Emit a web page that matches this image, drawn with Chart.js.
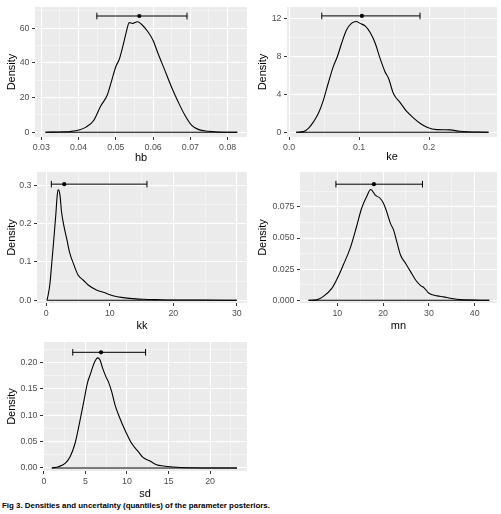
<!DOCTYPE html>
<html>
<head>
<meta charset="utf-8">
<script src="https://cdn.jsdelivr.net/npm/chart.js@4.4.0/dist/chart.umd.min.js"></script>
<style>
  html, body { margin: 0; padding: 0; background: #fff; overflow: hidden; }
  body { width: 501px; height: 514px; position: relative; }
  canvas { position: absolute; }
  #caption { position: absolute; left: 2px; top: 501px; line-height: 9px; white-space: nowrap;
             font: bold 7.9px "Liberation Sans", Arial, sans-serif; color: #000; }
</style>
</head>
<body>
<div id="caption">Fig 3. Densities and uncertainty (quantiles) of the parameter posteriors.</div>
<script>
// hb
const hbX = [0.0311, 0.036, 0.0378, 0.0401, 0.042, 0.0441, 0.0459, 0.0477, 0.0489, 0.05, 0.0509, 0.0518, 0.0527, 0.0536, 0.0545, 0.0558, 0.0568, 0.0586, 0.06, 0.0613, 0.0631, 0.0649, 0.0667, 0.0685, 0.0703, 0.0721, 0.0748, 0.0775, 0.0826];
const hbY = [0, 0.3, 0.5, 1.3, 3, 7, 15, 21.5, 30, 38, 42, 49, 57, 63.3, 62.8, 63.8, 62.5, 58, 53, 45.6, 36, 26.3, 17.7, 10, 4.2, 1.7, 0.6, 0.2, 0];
const hbInterval = [0.0449, 0.0563, 0.0691]; // low, median, high
const hbIntervalY = 67.1;
const hbXTicks = [0.03, 0.04, 0.05, 0.06, 0.07, 0.08];
const hbXLabels = ['0.03', '0.04', '0.05', '0.06', '0.07', '0.08'];
const hbXMinor = [0.035, 0.045, 0.055, 0.065, 0.075];
const hbYTicks = [0, 20, 40, 60];
const hbYLabels = ['0', '20', '40', '60'];
const hbYMinor = [10, 30, 50, 70];

// ke
const keX = [0.010, 0.0205, 0.0276, 0.0348, 0.0419, 0.049, 0.056, 0.063, 0.069, 0.075, 0.082, 0.089, 0.096, 0.1014, 0.109, 0.116, 0.123, 0.130, 0.137, 0.142, 0.149, 0.159, 0.168, 0.178, 0.187, 0.197, 0.211, 0.230, 0.244, 0.285];
const keY = [0, 0.07, 0.42, 1.1, 2.0, 3.4, 5.2, 6.9, 8.0, 9.4, 10.8, 11.5, 11.7, 11.5, 11.2, 10.5, 9.4, 7.8, 6.4, 5.7, 4.1, 3.1, 2.2, 1.5, 0.95, 0.53, 0.28, 0.25, 0.1, 0];
const keInterval = [0.0467, 0.104, 0.187];
const keIntervalY = 12.29;
const keXTicks = [0, 0.1, 0.2];
const keXLabels = ['0.0', '0.1', '0.2'];
const keXMinor = [0.05, 0.15, 0.25];
const keYTicks = [0, 4, 8, 12];
const keYLabels = ['0', '4', '8', '12'];
const keYMinor = [2, 6, 10];

// kk
const kkX = [0.1, 0.3, 0.58, 0.84, 1.2, 1.5, 1.73, 1.9, 2.15, 2.4, 2.8, 3.2, 3.7, 4.25, 5.0, 5.8, 6.6, 7.9, 9.0, 10.5, 12.1, 13.7, 15.3, 17.4, 20, 24.2, 30];
const kkY = [0, 0.014, 0.044, 0.092, 0.162, 0.223, 0.275, 0.288, 0.275, 0.231, 0.192, 0.162, 0.123, 0.097, 0.066, 0.053, 0.040, 0.027, 0.021, 0.012, 0.007, 0.0043, 0.0026, 0.0017, 0.0009, 0.0009, 0];
const kkInterval = [0.8, 2.83, 15.85];
const kkIntervalY = 0.303;
const kkXTicks = [0, 10, 20, 30];
const kkXLabels = ['0', '10', '20', '30'];
const kkXMinor = [5, 15, 25];
const kkYTicks = [0, 0.1, 0.2, 0.3];
const kkYLabels = ['0.0', '0.1', '0.2', '0.3'];
const kkYMinor = [0.05, 0.15, 0.25];

// mn
const mnX = [3.7, 5.5, 6.9, 8.8, 10, 11.3, 12.8, 14.2, 15.3, 16.4, 17.3, 18.3, 19.4, 20.1, 20.8, 21.6, 22.3, 23.0, 23.8, 24.9, 26.0, 27.1, 28.2, 28.9, 30.0, 31.8, 33.2, 34.7, 36.8, 43.2];
const mnY = [0, 0.0003, 0.0029, 0.0096, 0.0176, 0.0283, 0.0417, 0.0591, 0.0738, 0.0832, 0.089, 0.0845, 0.0818, 0.0778, 0.0711, 0.0618, 0.0564, 0.047, 0.0364, 0.0297, 0.023, 0.0163, 0.0118, 0.0102, 0.0056, 0.0035, 0.0027, 0.0016, 0.0005, 0];
const mnInterval = [9.7, 18.0, 28.6];
const mnIntervalY = 0.0933;
const mnXTicks = [10, 20, 30, 40];
const mnXLabels = ['10', '20', '30', '40'];
const mnXMinor = [5, 15, 25, 35];
const mnYTicks = [0, 0.025, 0.05, 0.075];
const mnYLabels = ['0.000', '0.025', '0.050', '0.075'];
const mnYMinor = [0.0125, 0.0375, 0.0625, 0.0875];

// sd
const sdX = [0.96, 1.76, 2.56, 3.16, 3.76, 4.36, 4.84, 5.24, 5.64, 6.04, 6.48, 6.76, 7.08, 7.48, 7.76, 8.16, 8.56, 9.16, 9.76, 10.56, 11.36, 11.96, 12.76, 13.56, 14.36, 15.56, 17.16, 23.24];
const sdY = [0, 0.0025, 0.0089, 0.0215, 0.047, 0.091, 0.129, 0.161, 0.18, 0.199, 0.209, 0.205, 0.189, 0.173, 0.164, 0.145, 0.12, 0.094, 0.072, 0.047, 0.031, 0.0196, 0.0133, 0.0063, 0.0038, 0.0019, 0.0006, 0];
const sdInterval = [3.48, 6.88, 12.24];
const sdIntervalY = 0.2196;
const sdXTicks = [0, 5, 10, 15, 20];
const sdXLabels = ['0', '5', '10', '15', '20'];
const sdXMinor = [2.5, 7.5, 12.5, 17.5, 22.5];
const sdYTicks = [0, 0.05, 0.1, 0.15, 0.2];
const sdYLabels = ['0.00', '0.05', '0.10', '0.15', '0.20'];
const sdYMinor = [0.025, 0.075, 0.125, 0.175, 0.225];

Chart.defaults.font.family = '"Liberation Sans", Arial, sans-serif';
Chart.defaults.animation = false;

const PAD = 10;      // room above and right of each panel
const AXIS_H = 34;   // room below each panel (ticks + title)
const TICK_FONT = 8.8;
const TITLE_FONT = 11;

const panels = [
    { name: 'hb', x: hbX, y: hbY, bar: hbInterval, barY: hbIntervalY,
      xTicks: hbXTicks, xLabels: hbXLabels, xMinor: hbXMinor, yTicks: hbYTicks, yLabels: hbYLabels, yMinor: hbYMinor,
      xRange: [0.0283, 0.0852], yRange: [-2.7, 72.3],
      box: { left: 35, top: 7, right: 247, bottom: 137 }, canvasLeft: 0, densityX: 12, titleY: 158 },
    { name: 'ke', x: keX, y: keY, bar: keInterval, barY: keIntervalY,
      xTicks: keXTicks, xLabels: keXLabels, xMinor: keXMinor, yTicks: keYTicks, yLabels: keYLabels, yMinor: keYMinor,
      xRange: [-0.003, 0.297], yRange: [-0.5, 13.23],
      box: { left: 287, top: 7, right: 497, bottom: 137 }, canvasLeft: 250, densityX: 263, titleY: 157 },
    { name: 'kk', x: kkX, y: kkY, bar: kkInterval, barY: kkIntervalY,
      xTicks: kkXTicks, xLabels: kkXLabels, xMinor: kkXMinor, yTicks: kkYTicks, yLabels: kkYLabels, yMinor: kkYMinor,
      xRange: [-1.46, 31.6], yRange: [-0.007, 0.3347],
      box: { left: 37, top: 172, right: 247, bottom: 303 }, canvasLeft: 0, densityX: 12, titleY: 326 },
    { name: 'mn', x: mnX, y: mnY, bar: mnInterval, barY: mnIntervalY,
      xTicks: mnXTicks, xLabels: mnXLabels, xMinor: mnXMinor, yTicks: mnYTicks, yLabels: mnYLabels, yMinor: mnYMinor,
      xRange: [1.86, 44.87], yRange: [-0.0022, 0.1031],
      box: { left: 300, top: 172, right: 497, bottom: 303 }, canvasLeft: 250, densityX: 263, titleY: 326 },
    { name: 'sd', x: sdX, y: sdY, bar: sdInterval, barY: sdIntervalY,
      xTicks: sdXTicks, xLabels: sdXLabels, xMinor: sdXMinor, yTicks: sdYTicks, yLabels: sdYLabels, yMinor: sdYMinor,
      xRange: [-0.1, 24.44], yRange: [-0.0057, 0.2392],
      box: { left: 43, top: 342, right: 247, bottom: 471 }, canvasLeft: 0, densityX: 12, titleY: 494 },
];

// grey ggplot panel background
const panelBg = {
    id: 'panelBg',
    beforeDraw(chart) {
        const { ctx, chartArea: a } = chart;
        ctx.save();
        ctx.fillStyle = '#EBEBEB';
        ctx.fillRect(a.left, a.top, a.right - a.left, a.bottom - a.top);
        ctx.restore();
    }
};

function tickList(majors, minors) {
    return majors.map(v => ({ value: v }))
        .concat(minors.map(v => ({ value: v, minor: true })))
        .sort((a, b) => a.value - b.value);
}

function axisOptions(p, axis) {
    const majors = axis === 'x' ? p.xTicks : p.yTicks;
    const labels = axis === 'x' ? p.xLabels : p.yLabels;
    const minors = axis === 'x' ? p.xMinor : p.yMinor;
    const range = axis === 'x' ? p.xRange : p.yRange;
    const yw = p.box.left - p.canvasLeft;
    return {
        type: 'linear',
        position: axis === 'x' ? 'bottom' : 'left',
        min: range[0],
        max: range[1],
        afterBuildTicks(scale) { scale.ticks = tickList(majors, minors); },
        afterFit(scale) {
            if (axis === 'x') scale.height = AXIS_H;
            else scale.width = yw;
        },
        border: { display: false },
        grid: {
            color: c => (c.tick && c.tick.minor) ? 'rgba(255,255,255,0.9)' : '#FFFFFF',
            lineWidth: c => (c.tick && c.tick.minor) ? 0.5 : 1,
            tickColor: c => (c.tick && c.tick.minor) ? 'rgba(0,0,0,0)' : '#333333',
            tickLength: 3,
            tickWidth: 1,
        },
        ticks: {
            autoSkip: false,
            maxRotation: 0,
            padding: axis === 'x' ? 2 : 2.5,
            color: '#4D4D4D',
            font: { size: TICK_FONT },
            callback: (value, index, ticks) => {
                if (ticks[index].minor) return '';
                const k = majors.indexOf(ticks[index].value);
                return k >= 0 ? labels[k] : '';
            }
        },
        title: axis === 'x'
            ? { display: true, text: p.name, color: '#000', font: { size: TITLE_FONT, lineHeight: 1.2 },
                padding: { top: 0, bottom: (p.box.bottom + AXIS_H) - p.titleY - TITLE_FONT * 0.6 } }
            : { display: true, text: 'Density', color: '#000', font: { size: TITLE_FONT, lineHeight: 1.2 },
                padding: { top: p.densityX - p.canvasLeft - TITLE_FONT * 0.6, bottom: 0 } }
    };
}

function drawPanel(p) {
    const canvas = document.createElement('canvas');
    const w = p.box.right + PAD - p.canvasLeft;
    const h = PAD + (p.box.bottom - p.box.top) + AXIS_H;
    canvas.width = w;
    canvas.height = h;
    canvas.style.width = w + 'px';
    canvas.style.height = h + 'px';
    canvas.style.left = p.canvasLeft + 'px';
    canvas.style.top = (p.box.top - PAD) + 'px';
    document.body.appendChild(canvas);

    const curve = p.x.map((v, i) => ({ x: v, y: p.y[i] }));
    const last = p.x.length - 1;

    new Chart(canvas, {
        type: 'line',
        data: {
            datasets: [
                { // density outline
                    data: curve, borderColor: '#000', borderWidth: 1.1, pointRadius: 0,
                    cubicInterpolationMode: 'monotone'
                },
                { // density baseline
                    data: [{ x: p.x[0], y: 0 }, { x: p.x[last], y: 0 }],
                    borderColor: '#000', borderWidth: 1.1, pointRadius: 0
                },
                { // quantile bar with caps
                    data: [{ x: p.bar[0], y: p.barY }, { x: p.bar[2], y: p.barY }],
                    borderColor: '#000', borderWidth: 1, pointStyle: 'line', rotation: 90,
                    pointRadius: 3.3, pointBorderWidth: 1, pointBorderColor: '#000'
                },
                { // median
                    data: [{ x: p.bar[1], y: p.barY }], showLine: false,
                    pointStyle: 'circle', pointRadius: 2.1, pointBackgroundColor: '#000',
                    pointBorderColor: '#000', pointBorderWidth: 0
                }
            ]
        },
        options: {
            responsive: false,
            maintainAspectRatio: false,
            devicePixelRatio: 1,
            layout: { padding: { top: PAD, right: PAD, left: 0, bottom: 0 } },
            scales: {
                x: axisOptions(p, 'x'),
                y: axisOptions(p, 'y')
            },
            plugins: {
                legend: { display: false },
                tooltip: { enabled: false }
            }
        },
        plugins: [panelBg]
    });
}

panels.forEach(drawPanel);
</script>
</body>
</html>
